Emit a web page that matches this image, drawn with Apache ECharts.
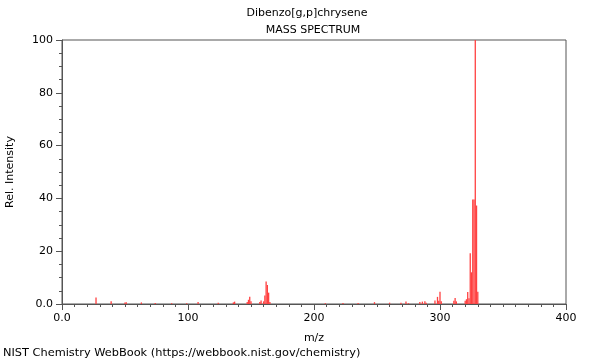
<!DOCTYPE html>
<html>
<head>
<meta charset="utf-8">
<script src="https://cdn.jsdelivr.net/npm/echarts@6/dist/echarts.min.js"></script>
<style>
html,body{margin:0;padding:0;background:#fff;}
#chart{width:600px;height:360px;}
</style>
</head>
<body>
<div id="chart"></div>
<script>
var chartTitle = 'Dibenzo[g,p]chrysene';
var chartSubtitle = 'MASS SPECTRUM';
var footerText = 'NIST Chemistry WebBook (https://webbook.nist.gov/chemistry)';
var xName = 'm/z';
var yName = 'Rel. Intensity';

var mz = [27, 39, 50, 51, 63, 74, 87, 99, 108, 124, 136, 137, 147, 148, 149, 150, 157, 158, 160, 161, 162, 163, 164, 165, 209, 223, 235, 248, 260, 269, 273, 275, 284, 286, 288, 289, 296, 298, 299, 300, 301, 311, 312, 313, 320, 321, 322, 323, 324, 325, 326, 327, 328, 329, 330];
var intensity = [2.5, 1.0, 0.6, 0.7, 0.6, 0.4, 0.3, 0.3, 0.8, 0.5, 0.6, 0.9, 0.8, 1.6, 2.7, 1.0, 0.8, 1.3, 1.0, 3.2, 8.5, 7.2, 4.3, 0.8, 0.3, 0.4, 0.4, 0.7, 0.5, 0.5, 0.9, 0.3, 0.8, 0.9, 1.0, 0.5, 1.3, 2.7, 1.2, 4.6, 1.0, 1.2, 2.3, 1.0, 1.2, 1.8, 4.5, 2.2, 19.2, 12.0, 39.6, 39.6, 100, 37.3, 4.6];

var peaks = mz.map(function (m, i) { return [m, intensity[i]]; });

var chart = echarts.init(document.getElementById('chart'), null, {renderer: 'canvas'});
var font = 'DejaVu Sans';
chart.setOption({
  animation: false,
  backgroundColor: '#fff',
  graphic: [
    {type: 'text', x: 307, y: 13, style: {text: chartTitle, font: '11px "DejaVu Sans"', fill: '#000', textAlign: 'center', textVerticalAlign: 'middle'}},
    {type: 'text', x: 313, y: 30, style: {text: chartSubtitle, font: '11px "DejaVu Sans"', fill: '#000', textAlign: 'center', textVerticalAlign: 'middle'}},
    {type: 'text', x: 3, y: 353, style: {text: footerText, font: '11.35px "DejaVu Sans"', fill: '#000', textAlign: 'left', textVerticalAlign: 'middle'}}
  ],
  grid: {left: 62, right: 34, top: 40, bottom: 56, containLabel: false, outerBoundsMode: 'none',
    show: true, borderColor: '#555', borderWidth: 1, backgroundColor: 'transparent'},
  xAxis: {
    type: 'value', min: 0, max: 400, interval: 100,
    name: xName, nameLocation: 'middle', nameGap: 29,
    nameTextStyle: {fontFamily: font, fontSize: 11, color: '#000'},
    axisLine: {show: true, lineStyle: {color: '#555'}},
    axisTick: {show: true, inside: false, length: 6, lineStyle: {color: '#555'}},
    minorTick: {show: true, splitNumber: 10, length: 3, lineStyle: {color: '#555'}},
    splitLine: {show: false},
    axisLabel: {fontFamily: font, fontSize: 11, color: '#000', margin: 9,
      formatter: function (v) { return v === 0 ? '0.0' : String(v); }}
  },
  yAxis: {
    type: 'value', min: 0, max: 100, interval: 20,
    name: yName, nameLocation: 'middle', nameGap: 46,
    nameTextStyle: {fontFamily: font, fontSize: 11, color: '#000'},
    axisLine: {show: true, lineStyle: {color: '#555'}},
    axisTick: {show: true, inside: false, length: 6, lineStyle: {color: '#555'}},
    minorTick: {show: true, splitNumber: 4, length: 3, lineStyle: {color: '#555'}},
    splitLine: {show: false},
    axisLabel: {fontFamily: font, fontSize: 11, color: '#000', margin: 9,
      formatter: function (v) { return v === 0 ? '0.0' : String(v); }}
  },
  series: [{
    type: 'bar',
    data: peaks,
    barWidth: 1.3,
    itemStyle: {color: '#ff4040'},
    silent: true
  }]
});
</script>
</body>
</html>
